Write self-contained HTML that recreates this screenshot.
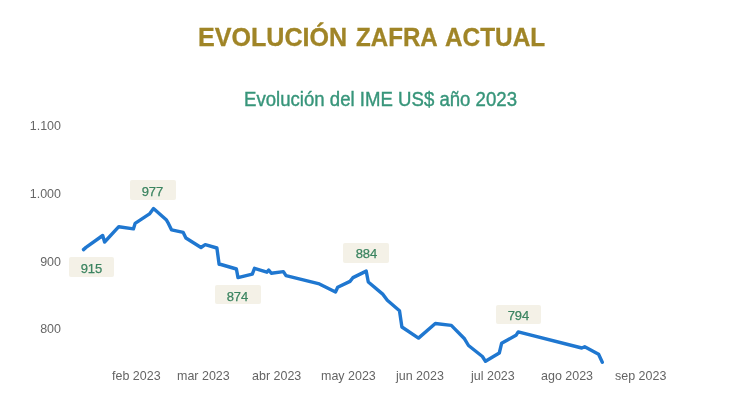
<!DOCTYPE html>
<html><head><meta charset="utf-8">
<style>
html,body{margin:0;padding:0;background:#fff;}
body{width:750px;height:411px;position:relative;overflow:hidden;font-family:"Liberation Sans",sans-serif;}
#wrap{position:absolute;left:0;top:0;width:750px;height:411px;filter:blur(0.45px);}
.t{position:absolute;white-space:nowrap;line-height:1;}
.tw{top:23.5px;font-size:26.5px;font-weight:bold;color:#A08527;-webkit-text-stroke:0.3px #A08527;transform-origin:0 0;}
#sub{left:243.5px;top:88.6px;font-size:20px;color:#37957A;-webkit-text-stroke:0.4px #37957A;transform-origin:0 0;transform:scaleX(0.93);}
.yl{font-size:13px;color:#676767;text-align:right;width:61px;left:0;transform-origin:100% 0;transform:scaleX(0.96);}
.xl{font-size:13px;color:#646464;transform-origin:0 0;transform:scaleX(0.96);}
.box{position:absolute;background:#F4F1E7;border-radius:2px;width:45px;height:20px;}
.dl{position:absolute;font-size:13px;color:#3B8460;-webkit-text-stroke:0.25px #3B8460;width:45px;text-align:center;line-height:20px;}
svg{position:absolute;left:0;top:0;}
</style></head><body><div id="wrap">
<div class="t tw" style="left:197.9px;transform:scaleX(0.947)">EVOLUCIÓN</div>
<div class="t tw" style="left:355.6px;transform:scaleX(0.91)">ZAFRA</div>
<div class="t tw" style="left:445px;transform:scaleX(0.92)">ACTUAL</div>
<div class="t" id="sub">Evolución del IME US$ año 2023</div>

<div class="t yl" style="top:119px">1.100</div>
<div class="t yl" style="top:187px">1.000</div>
<div class="t yl" style="top:255px">900</div>
<div class="t yl" style="top:322px">800</div>

<div class="t xl" style="left:112px;top:369px">feb 2023</div>
<div class="t xl" style="left:177px;top:369px">mar 2023</div>
<div class="t xl" style="left:252px;top:369px">abr 2023</div>
<div class="t xl" style="left:321px;top:369px">may 2023</div>
<div class="t xl" style="left:395.5px;top:369px">jun 2023</div>
<div class="t xl" style="left:471px;top:369px">jul 2023</div>
<div class="t xl" style="left:541px;top:369px">ago 2023</div>
<div class="t xl" style="left:615px;top:369px">sep 2023</div>


<div class="box" style="left:69px;top:257px;width:45px;height:20px"></div><div class="dl" style="left:69px;top:259px">915</div>
<div class="box" style="left:130px;top:180px;width:46px;height:20px"></div><div class="dl" style="left:130px;top:182px">977</div>
<div class="box" style="left:215px;top:285px;width:46px;height:19px"></div><div class="dl" style="left:215px;top:287px">874</div>
<div class="box" style="left:343.3px;top:243px;width:45.5px;height:20px"></div><div class="dl" style="left:344px;top:244px">884</div>
<div class="box" style="left:496px;top:305px;width:45px;height:19px"></div><div class="dl" style="left:496px;top:306px">794</div>

<svg width="750" height="411" viewBox="0 0 750 411">
<polyline fill="none" stroke="#1F77D0" stroke-width="3.4" stroke-linejoin="round" stroke-linecap="round" points="83.5,249.6 86,247.4 102.7,235.5 104.6,242 118.8,226.7 133.4,228.9 135.1,223.4 149.5,213.9 153.5,208.5 166.2,219.7 168.4,223.4 171.6,229.9 183.2,232.4 185.9,238 201,247.5 205.2,244.7 216.9,248 219.1,264.2 221,264.5 236.4,269 238,277.6 252.3,274.1 254.5,268.3 266.9,272.2 268.7,270 271.3,273.2 283.4,271.6 286,275.6 319.4,283.9 335.5,292 337.7,287.2 350,281.4 352.3,278.5 353,277.6 366.2,271.1 368.3,282 383,294.4 387.3,300.3 399.5,310.8 401.9,327 418.5,338.1 435.3,323.5 451.3,325.4 464.5,338.8 468.5,345.5 482.4,356.5 485.5,361.3 499.3,353 501.6,343.3 516,335.3 518.2,331.9 581.8,348 584.7,346.7 598.6,354.3 602.3,362.3"/>
</svg>
</div></body></html>
